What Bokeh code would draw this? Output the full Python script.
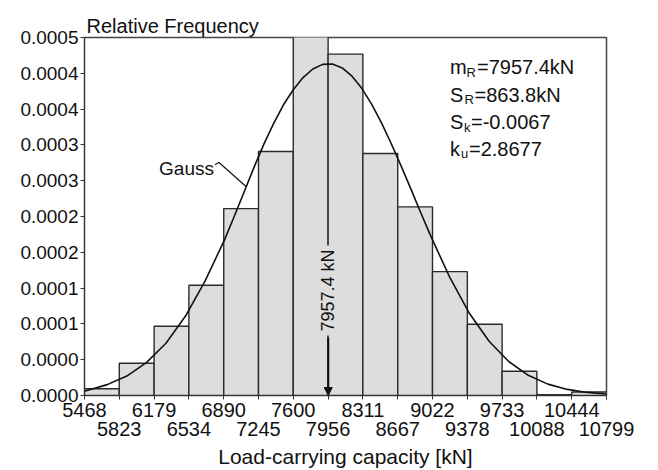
from bokeh.plotting import figure
from bokeh.models import Range1d, FixedTicker, LinearAxis, Label, Arrow, NormalHead
from bokeh.embed import file_html
from bokeh.resources import INLINE

# ---------------- data ----------------
bin_edges = [5468, 5823, 6179, 6534, 6890, 7245, 7600, 7956, 8311, 8667,
             9022, 9378, 9733, 10088, 10444, 10799]
rel_freq = [9.5e-6, 4.50e-5, 9.67e-5, 1.540e-4, 2.610e-4, 3.407e-4, 5.13e-4,
            4.768e-4, 3.379e-4, 2.634e-4, 1.730e-4, 9.95e-5, 3.38e-5, 1.2e-6, 4.9e-6]

gauss_x = [5468, 5700, 5900, 6100, 6300, 6500, 6700, 6900, 7000, 7100, 7200,
           7300, 7400, 7500, 7600, 7700, 7800, 7900, 8000, 8100, 8200, 8300,
           8400, 8500, 8600, 8700, 8800, 8900, 9000, 9200, 9400, 9600, 9800,
           10000, 10200, 10400, 10600, 10799]
gauss_y = [6.0e-6, 1.52e-5, 2.71e-5, 4.60e-5, 7.30e-5, 1.11e-4, 1.60e-4, 2.18e-4,
           2.51e-4, 2.85e-4, 3.19e-4, 3.51e-4, 3.80e-4, 4.06e-4, 4.27e-4, 4.44e-4,
           4.56e-4, 4.625e-4, 4.63e-4, 4.575e-4, 4.46e-4, 4.29e-4, 4.07e-4, 3.81e-4,
           3.52e-4, 3.21e-4, 2.89e-4, 2.56e-4, 2.24e-4, 1.645e-4, 1.145e-4, 7.57e-5,
           4.75e-5, 2.82e-5, 1.59e-5, 8.5e-6, 4.3e-6, 2.1e-6]

y_ticks = [0.0, 0.00005, 0.0001, 0.00015, 0.0002, 0.00025, 0.0003, 0.00035,
           0.0004, 0.00045, 0.0005]
y_tick_labels = ["0.0000", "0.0000", "0.0001", "0.0001", "0.0002", "0.0002",
                 "0.0003", "0.0003", "0.0004", "0.0004", "0.0005"]
x_tick_labels = ["5468", "5823", "6179", "6534", "6890", "7245", "7600", "7956",
                 "8311", "8667", "9022", "9378", "9733", "10088", "10444", "10799"]

mean_value = 7957.4
mean_label = "7957.4 kN"
stats = [("m", "R", "=7957.4kN"), ("S", "R", "=863.8kN"),
         ("S", "k", "=-0.0067"), ("k", "u", "=2.8677")]

# ---------------- layout helpers ----------------
FONT = "Liberation Sans"
X0, X1 = bin_edges[0], bin_edges[-1]
Y_MAX = y_ticks[-1]
F_LEFT, F_TOP, F_W, F_H = 84.0, 37.0, 522.0, 358.0


def px_to_x(px):
    return X0 + (px - F_LEFT) / F_W * (X1 - X0)


def py_to_y(py):
    return (F_TOP + F_H - py) / F_H * Y_MAX


p = figure(frame_width=int(F_W), frame_height=int(F_H),
           x_range=Range1d(X0, X1), y_range=Range1d(0, Y_MAX),
           output_backend="svg", toolbar_location=None,
           min_border_left=84, min_border_right=44, min_border_top=37,
           min_border_bottom=0)
p.grid.visible = False
p.outline_line_color = "#444444"
p.outline_line_width = 1.5
p.background_fill_color = "white"
p.border_fill_color = "white"

p.title.text = "Relative Frequency"
p.title.text_font = FONT
p.title.text_font_size = "20px"
p.title.text_font_style = "normal"
p.title.text_color = "#111111"
p.title.align = "left"
p.title.offset = 2
p.title.standoff = 2

# bars
p.quad(left=bin_edges[:-1], right=bin_edges[1:], bottom=0, top=rel_freq,
       fill_color="#dddddd", line_color="#2a2a2a", line_width=1.4)

# gauss curve
p.line(gauss_x, gauss_y, line_color="#111111", line_width=1.6)

# y axis
ya = p.yaxis[0]
ya.ticker = FixedTicker(ticks=y_ticks)
ya.major_label_overrides = {t: l for t, l in zip(y_ticks, y_tick_labels)}
ya.minor_tick_line_color = None
ya.major_tick_in = 0
ya.major_tick_out = 4
ya.major_label_standoff = 2
ya.major_label_text_font = FONT
ya.major_label_text_font_size = "19px"
ya.major_label_text_color = "#111111"
ya.axis_line_color = "#333333"
ya.major_tick_line_color = "#333333"

# x axis: upper row
lower = [e for i, e in enumerate(bin_edges) if i % 2 == 1]
xa = p.xaxis[0]
xa.ticker = FixedTicker(ticks=bin_edges)
xa.major_label_overrides = {e: (l if i % 2 == 0 else "")
                            for i, (e, l) in enumerate(zip(bin_edges, x_tick_labels))}
xa.minor_tick_line_color = None
xa.major_tick_in = 0
xa.major_tick_out = 4
xa.major_label_standoff = 3
xa.major_label_text_font = FONT
xa.major_label_text_font_size = "20px"
xa.major_label_text_color = "#111111"
xa.axis_line_color = "#333333"
xa.major_tick_line_color = "#333333"

# x axis: lower row
xa2 = LinearAxis(ticker=FixedTicker(ticks=lower))
xa2.major_label_overrides = {e: l for i, (e, l) in enumerate(zip(bin_edges, x_tick_labels)) if i % 2 == 1}
xa2.minor_tick_line_color = None
xa2.major_tick_line_color = None
xa2.major_tick_in = 0
xa2.major_tick_out = 0
xa2.axis_line_color = None
xa2.major_label_standoff = 2
xa2.major_label_text_font = FONT
xa2.major_label_text_font_size = "20px"
xa2.major_label_text_color = "#111111"
xa2.axis_label = "Load-carrying capacity [kN]"
xa2.axis_label_text_font = FONT
xa2.axis_label_text_font_size = "21px"
xa2.axis_label_text_font_style = "normal"
xa2.axis_label_text_color = "#111111"
xa2.axis_label_standoff = 6
p.add_layout(xa2, "below")

# statistics text
base_px = 449.5
line_py = [66.7, 94.3, 121.7, 148.3]
sub_off = [16.5, 14.5, 14.0, 11.0]
rest_off = [27.0, 24.5, 21.0, 19.0]
for (main, sub, rest), py, so, ro in zip(stats, line_py, sub_off, rest_off):
    xx, yy = px_to_x(base_px), py_to_y(py)
    p.add_layout(Label(x=xx, y=yy, text=main, text_font=FONT, text_font_size="20px",
                       text_color="#111111", text_align="left", text_baseline="alphabetic"))
    p.add_layout(Label(x=xx, y=yy, x_offset=so, y_offset=-5, text=sub, text_font=FONT,
                       text_font_size="13px", text_color="#111111", text_align="left",
                       text_baseline="alphabetic"))
    p.add_layout(Label(x=xx, y=yy, x_offset=ro, text=rest, text_font=FONT, text_font_size="20px",
                       text_color="#111111", text_align="left", text_baseline="alphabetic"))

# Gauss label with leader line
p.add_layout(Label(x=px_to_x(213.5), y=py_to_y(167.5), text="Gauss", text_font=FONT,
                   text_font_size="19px", text_color="#111111", text_align="right",
                   text_baseline="alphabetic"))
p.line([px_to_x(214.5), px_to_x(218.5), px_to_x(245.5)],
       [py_to_y(164.0), py_to_y(162.0), py_to_y(186.0)],
       line_color="#111111", line_width=1.2)

# mean annotation
p.add_layout(Arrow(end=NormalHead(size=8, fill_color="#111111", line_color="#111111"),
                   x_start=mean_value, y_start=py_to_y(337.5), x_end=mean_value, y_end=0,
                   line_color="#111111", line_width=2))
p.add_layout(Label(x=mean_value, y=py_to_y(290.0), text=mean_label, angle=90, angle_units="deg",
                   text_font=FONT, text_font_size="18px", text_color="#111111",
                   text_align="center", text_baseline="middle",
                   background_fill_color="#dddddd", background_fill_alpha=1.0, padding=4))

open("out.html", "w").write(file_html(p, INLINE))
